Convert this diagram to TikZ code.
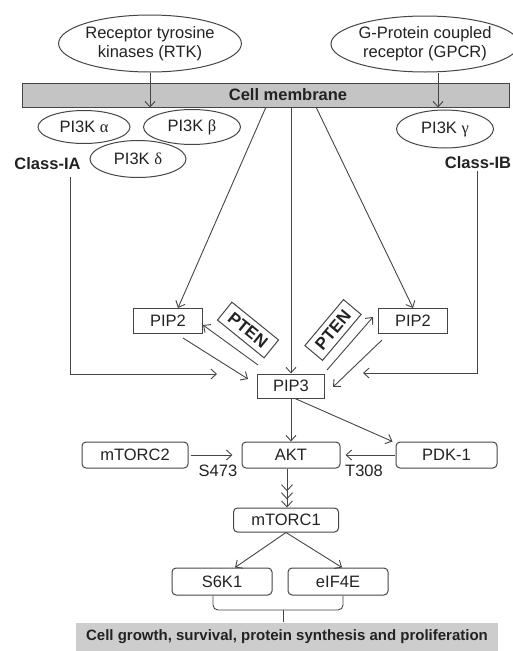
\documentclass[tikz,border=0pt]{standalone}
\usepackage{fontspec}
\setmainfont{Liberation Sans}
\newfontfamily\grk{Liberation Serif}
\usetikzlibrary{shapes.geometric,arrows.meta,calc}
\definecolor{ln}{HTML}{454545}
\definecolor{txt}{HTML}{222222}
\definecolor{bar}{HTML}{C4C4C4}
\definecolor{outf}{HTML}{CDCDCD}
\begin{document}
\begin{tikzpicture}[x=1pt,y=-1pt,
  every node/.style={text=txt,font=\fontsize{16.5}{19}\selectfont},
  ell/.style={ellipse,draw=ln,line width=1pt,fill=white,inner sep=0pt,align=center},
  box/.style={rectangle,draw=ln,line width=1pt,inner sep=0pt,minimum height=25pt},
  rbox/.style={rectangle,rounded corners=4pt,draw=ln,line width=1pt,inner sep=0pt,minimum height=26pt},
  pten/.style={rectangle,draw=ln,line width=1pt,inner sep=0pt,minimum width=60pt,minimum height=23pt,font=\bfseries\fontsize{17}{19}\selectfont},
  arr/.style={draw=ln,line width=0.9pt,-{Straight Barb[length=5.5pt,width=10pt]}},
  lab/.style={font=\bfseries\fontsize{16.5}{19}\selectfont}
]
\useasboundingbox (0,0) rectangle (512,651);
% receptors
\node[ell,minimum width=160pt,minimum height=57pt] (rtk) at (150,43.5) {Receptor tyrosine\\kinases (RTK)};
\node[ell,minimum width=158pt,minimum height=56pt] (gpcr) at (425,44) {G-Protein coupled\\receptor (GPCR)};
% membrane
\node[rectangle,draw=ln,line width=1pt,fill=bar,minimum width=487pt,minimum height=24pt,inner sep=0pt] (mem) at (265.5,95) {};
\node[lab] (memlabel) at (288,95) {Cell membrane};
\draw[arr] (rtk.south) -- (rtk.south |- mem.south);
\draw[arr] ([xshift=13pt]gpcr.south) -- ([xshift=13pt]gpcr.south |- mem.south);
% PI3K
\node[ell,minimum width=92pt,minimum height=33pt] (pa) at (84,127) {PI3K {\grk α}};
\node[ell,minimum width=97pt,minimum height=35pt] (pb) at (192,127) {PI3K {\grk β}};
\node[ell,minimum width=96pt,minimum height=37pt] (pd) at (138,159) {PI3K {\grk δ}};
\node[ell,minimum width=97pt,minimum height=38pt] (pg) at (445,129) {PI3K {\grk γ}};
\node[lab] (classIA) at (47.5,164) {Class-IA};
\node[lab] (classIB) at (478,163) {Class-IB};
% PIP nodes
\node[box,minimum width=69pt] (pip2l) at (168,321) {PIP2};
\node[box,minimum width=69pt] (pip2r) at (413,321) {PIP2};
\node[box,minimum width=67pt,minimum height=24pt] (pip3) at (291,386) {PIP3};
\node[pten,rotate=-39] (ptenl) at (248,330) {PTEN};
\node[pten,rotate=50] (ptenr) at (333,330) {PTEN};
% membrane lines
\coordinate (m1) at (266,107);
\coordinate (m2) at (291,107);
\coordinate (m3) at (316,107);
\draw[arr] (m1) -- ([xshift=10pt]pip2l.north);
\draw[arr] (m2) -- (pip3.north);
\draw[arr] (m3) -- (pip2r.north);
% class lines
\coordinate (ia) at (70,177);
\coordinate (iaend) at (217,374);
\coordinate (ib) at (477,171);
\coordinate (ibend) at (363,373);
\draw[arr] (ia) |- (iaend);
\draw[arr] (ib) |- (ibend);
% PIP2 <-> PIP3
\draw[arr] ($(pip2l)+(15,17)$) -- ($(pip3)+(-43,-7)$);
\draw[arr] ($(pip3)+(-33,-21)$) -- ($(pip2l)+(35,4)$);
\draw[arr] ($(pip3)+(36,-16)$) -- ($(pip2r)+(-40,-4)$);
\draw[arr] ($(pip2r)+(-31,19)$) -- ($(pip3)+(42,1)$);
% AKT row
\node[rbox,minimum width=106pt] (mtorc2) at (135,455) {mTORC2};
\node[rbox,minimum width=98pt] (akt) at (291,455) {AKT};
\node[rbox,minimum width=101pt] (pdk) at (446.5,455) {PDK-1};
\draw[arr] (pip3.south) -- (akt.north);
\draw[arr] ([xshift=4pt]pip3.south) -- ([xshift=-3pt]pdk.north west);
\draw[arr,shorten <=2pt,shorten >=9pt] (mtorc2.east) -- (akt.west);
\draw[arr,shorten <=1pt,shorten >=5pt] (pdk.west) -- (akt.east);
\node (s473) at (218,471) {S473};
\node (t308) at (364,471) {T308};
% mTORC1
\node[rbox,minimum width=105pt,minimum height=24pt] (mtorc1) at (286,520) {mTORC1};
\draw[draw=ln,line width=0.9pt,-{Straight Barb[length=6pt,width=11pt,sep=1pt]Straight Barb[length=6pt,width=11pt,sep=1pt]Straight Barb[length=6pt,width=11pt]}] (akt.south -| 287,0) -- (mtorc1.north -| 287,0);
% S6K1 eIF4E
\node[rbox,minimum width=100pt,minimum height=27pt] (s6k1) at (222,581.5) {S6K1};
\node[rbox,minimum width=100pt,minimum height=27pt] (eif) at (338,581.5) {eIF4E};
\draw[arr] (mtorc1.south) -- ($(s6k1.north)+(13,0)$);
\draw[arr] (mtorc1.south) -- ($(eif.north)+(4,0)$);
% output
\node[rectangle,fill=outf,minimum width=422pt,minimum height=29pt,inner sep=0pt,font=\bfseries\fontsize{15}{17}\selectfont] (out) at (287,637) {Cell growth, survival, protein synthesis and proliferation};
\coordinate (bmid) at (283,610);
\draw[draw=ln,line width=0.9pt,rounded corners=5pt] ($(s6k1.south)+(-9,0)$) |- (bmid) -| ($(eif.south)+(5,0)$);
\draw[draw=ln,line width=0.9pt] (bmid) -- (bmid |- out.north);
\end{tikzpicture}
\end{document}
